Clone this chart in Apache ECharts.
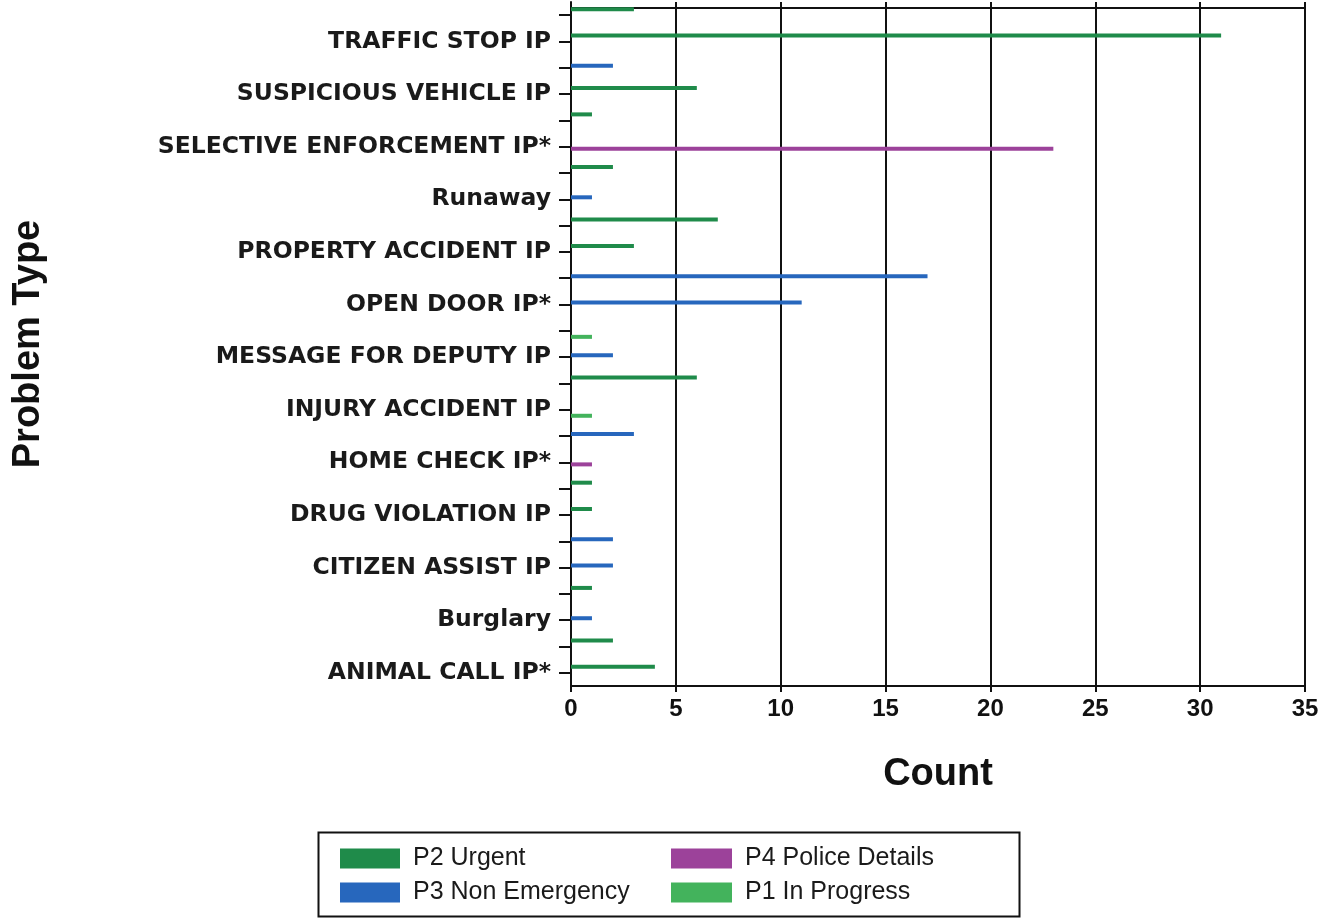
<!DOCTYPE html>
<html>
<head>
<meta charset="utf-8">
<script src="https://cdn.jsdelivr.net/npm/echarts@6/dist/echarts.min.js"></script>
<style>
html,body{margin:0;padding:0;background:#fff;}
#chart{width:1335px;height:920px;}
</style>
</head>
<body>
<div id="chart"></div>
<script>
// Categories listed bottom to top (only every other one is labelled in the source)
const categories = [
  'ANIMAL CALL IP*', '', 'Burglary', '', 'CITIZEN ASSIST IP', '',
  'DRUG VIOLATION IP', '', 'HOME CHECK IP*', '', 'INJURY ACCIDENT IP', '',
  'MESSAGE FOR DEPUTY IP', '', 'OPEN DOOR IP*', '', 'PROPERTY ACCIDENT IP', '',
  'Runaway', '', 'SELECTIVE ENFORCEMENT IP*', '', 'SUSPICIOUS VEHICLE IP', '',
  'TRAFFIC STOP IP', ''
];
const p2Urgent = [4, 2, null, 1, null, null, 1, 1, null, null, null, 6, null, null, null, null, 3, 7, null, 2, null, 1, 6, null, 31, 3];
const p3NonEmergency = [null, null, 1, null, 2, 2, null, null, null, 3, null, null, 2, null, 11, 17, null, null, 1, null, null, null, null, 2, null, null];
const p4PoliceDetails = [null, null, null, null, null, null, null, null, 1, null, null, null, null, null, null, null, null, null, null, null, 23, null, null, null, null, null];
const p1InProgress = [null, null, null, null, null, null, null, null, null, null, 1, null, null, 1, null, null, null, null, null, null, null, null, null, null, null, null];
const xTicks = [0, 5, 10, 15, 20, 25, 30, 35];

const seriesNames = ['P2 Urgent', 'P3 Non Emergency', 'P4 Police Details', 'P1 In Progress'];
const seriesColors = ['#1f8b4a', '#2767bd', '#9c429a', '#43b35c'];
const seriesData = [p2Urgent, p3NonEmergency, p4PoliceDetails, p1InProgress];

const chart = echarts.init(document.getElementById('chart'), null, {renderer: 'canvas'});
const legendText = {fontFamily: "'Liberation Sans Narrow', 'Liberation Sans', Arial, sans-serif", fontSize: 25, color: '#1a1a1a', padding: [0, 0, 0, 8]};
chart.setOption({
  backgroundColor: '#ffffff',
  animation: false,
  grid: {left: 571, right: 30, top: 2, bottom: 234, containLabel: false},
  xAxis: [{
    type: 'value', min: xTicks[0], max: xTicks[xTicks.length - 1], interval: xTicks[1] - xTicks[0],
    name: 'Count', nameLocation: 'middle', nameGap: 70,
    nameTextStyle: {fontFamily: "'Liberation Sans', Arial, sans-serif", fontWeight: 'bold', fontSize: 38, color: '#111'},
    axisLine: {show: true, lineStyle: {color: '#111', width: 2}},
    axisTick: {show: true, length: 6, lineStyle: {color: '#111', width: 2}},
    axisLabel: {margin: 11, fontFamily: "'Liberation Sans Narrow', 'Liberation Sans', Arial, sans-serif", fontWeight: 'bold', fontSize: 24, color: '#111'},
    splitLine: {show: true, lineStyle: {color: '#111', width: 2}}
  }, {
    type: 'value', position: 'top', offset: -6, min: xTicks[0], max: xTicks[xTicks.length - 1],
    axisLine: {show: true, lineStyle: {color: '#111', width: 2}},
    axisTick: {show: false}, axisLabel: {show: false}, splitLine: {show: false}
  }],
  yAxis: {
    type: 'category', data: categories,
    name: 'Problem Type', nameLocation: 'middle', nameGap: 523,
    nameTextStyle: {fontFamily: "'Liberation Sans', Arial, sans-serif", fontWeight: 'bold', fontSize: 38, color: '#111'},
    axisLine: {show: true, lineStyle: {color: '#111', width: 2}},
    axisTick: {show: true, alignWithLabel: true, length: 12, lineStyle: {color: '#111', width: 2}},
    axisLabel: {interval: 0, margin: 20, fontFamily: "'DejaVu Sans', Verdana, sans-serif", fontWeight: 'bold', fontSize: 23.5, color: '#1a1a1a'},
    splitLine: {show: false}
  },
  legend: [{
    orient: 'vertical', left: 335, top: 841, itemWidth: 60, itemHeight: 20, itemGap: 9,
    icon: 'rect', data: ['P2 Urgent', 'P3 Non Emergency'], textStyle: legendText, selectedMode: false
  }, {
    orient: 'vertical', left: 666, top: 841, itemWidth: 61, itemHeight: 20, itemGap: 9,
    icon: 'rect', data: ['P4 Police Details', 'P1 In Progress'], textStyle: legendText, selectedMode: false
  }],
  graphic: [{
    type: 'rect', left: 316, top: 830, shape: {width: 701, height: 84},
    style: {fill: 'none', stroke: '#111', lineWidth: 2}, silent: true, z: -1
  }],
  series: seriesNames.map((n, i) => ({
    name: n, type: 'bar', data: seriesData[i], barWidth: 4, barGap: '0%',
    itemStyle: {color: seriesColors[i]}
  }))
});
</script>
</body>
</html>
